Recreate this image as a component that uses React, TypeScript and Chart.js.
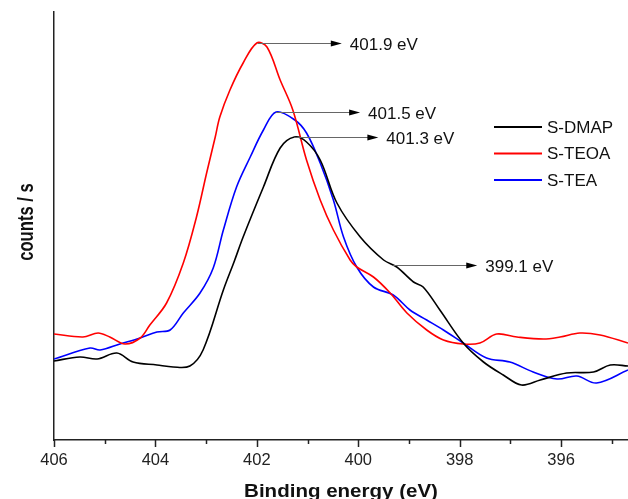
import React, { useEffect, useRef } from 'react';
import { Chart, registerables } from 'chart.js';

Chart.register(...registerables);

const FONT = '"Liberation Sans", Arial, Helvetica, sans-serif';

// ---- data ----
const seriesNames = ['S-DMAP', 'S-TEOA', 'S-TEA'];
const seriesColors = ['#000000', '#ff0000', '#0000ff'];

const dmapEnergy = [406.0, 405.49, 405.15, 404.76, 404.44, 403.97, 403.65, 403.32, 403.06, 402.66, 402.45, 402.27, 401.87, 401.54, 401.26, 401.02, 400.75, 400.42, 399.96, 399.5, 399.24, 398.91, 398.72, 398.39, 397.93, 397.53, 397.14, 396.78, 396.41, 395.89, 395.36, 395.03, 394.68];
const dmapCounts = [79, 83, 81, 87, 78, 75, 73, 74, 90, 150, 178, 203, 253, 292, 303, 298, 280, 237, 203, 180, 173, 158, 153, 130, 97, 78, 65, 55, 60, 67, 68, 75, 74];

const teoaEnergy = [406.0, 405.43, 405.13, 404.9, 404.6, 404.3, 404.11, 403.78, 403.45, 403.19, 402.99, 402.82, 402.73, 402.53, 402.27, 402.0, 401.8, 401.54, 401.29, 401.02, 400.75, 400.49, 400.16, 400.03, 399.7, 399.37, 399.04, 398.65, 398.32, 397.93, 397.6, 397.27, 396.87, 396.35, 396.02, 395.63, 395.23, 394.68];
const teoaCounts = [106, 103, 107, 103, 96, 102, 115, 137, 177, 223, 267, 303, 323, 350, 377, 397, 393, 360, 330, 280, 240, 210, 180, 173, 163, 147, 127, 110, 100, 96, 97, 106, 103, 101, 103, 107, 105, 97];

const teaEnergy = [406.0, 405.29, 405.09, 404.7, 404.3, 403.97, 403.71, 403.45, 403.12, 402.86, 402.66, 402.4, 402.13, 401.87, 401.62, 401.25, 401.02, 400.75, 400.49, 400.29, 400.03, 399.7, 399.31, 398.98, 398.65, 398.32, 397.93, 397.47, 397.01, 396.55, 396.08, 395.69, 395.3, 394.68];
const teaCounts = [81, 92, 90, 96, 102, 108, 110, 127, 147, 172, 210, 253, 283, 310, 328, 320, 307, 277, 240, 203, 173, 153, 145, 130, 120, 110, 97, 82, 78, 68, 61, 64, 57, 70];

const xTickValues = [406, 405, 404, 403, 402, 401, 400, 399, 398, 397, 396, 395];
const xMin = 394.68;
const xMax = 406;
const yMin = 0;
const yMax = 428;

const annotLabels = ['401.9 eV', '401.5 eV', '401.3 eV', '399.1 eV'];
const annotEnergy = [401.98, 401.62, 401.26, 399.31];
const annotCounts = [397, 328, 303, 175];

const xTitle = 'Binding energy (eV)';
const yTitle = 'counts / s';

const toPoints = (xs: number[], ys: number[]) => xs.map((x, i) => ({ x, y: ys[i] }));

const decorPlugin = {
  id: 'decor',
  afterDraw(chart: any) {
    const ctx: CanvasRenderingContext2D = chart.ctx;
    const xs = chart.scales.x;
    const ys = chart.scales.y;
    const area = chart.chartArea;
    ctx.save();

    // tick marks (major/minor)
    ctx.strokeStyle = '#222';
    ctx.lineWidth = 1.5;
    xTickValues.forEach((v) => {
      const px = Math.round(xs.getPixelForValue(v)) + 0.5;
      const len = v % 2 === 0 ? 7 : 4;
      ctx.beginPath();
      ctx.moveTo(px, area.bottom);
      ctx.lineTo(px, area.bottom + len);
      ctx.stroke();
    });

    // annotations
    annotLabels.forEach((lab, i) => {
      const sx = xs.getPixelForValue(annotEnergy[i]);
      const sy = Math.round(ys.getPixelForValue(annotCounts[i])) + 0.5;
      const tip = sx + 84;
      ctx.strokeStyle = '#666';
      ctx.lineWidth = 1;
      ctx.beginPath();
      ctx.moveTo(sx, sy);
      ctx.lineTo(tip - 9, sy);
      ctx.stroke();
      ctx.fillStyle = '#000';
      ctx.beginPath();
      ctx.moveTo(tip, sy);
      ctx.lineTo(tip - 11, sy - 3);
      ctx.lineTo(tip - 11, sy + 3);
      ctx.closePath();
      ctx.fill();
      ctx.font = `17px ${FONT}`;
      ctx.textAlign = 'left';
      ctx.textBaseline = 'middle';
      ctx.fillStyle = '#111';
      ctx.fillText(lab, tip + 8, sy + 2);
    });

    // legend
    const lx = area.right - 134;
    const ly0 = area.top + 115;
    seriesNames.forEach((name, i) => {
      const y = ly0 + i * 26.5;
      ctx.strokeStyle = seriesColors[i];
      ctx.lineWidth = 1.8;
      ctx.beginPath();
      ctx.moveTo(lx, y);
      ctx.lineTo(lx + 48, y);
      ctx.stroke();
      ctx.fillStyle = '#111';
      ctx.font = `17px ${FONT}`;
      ctx.textAlign = 'left';
      ctx.textBaseline = 'middle';
      ctx.fillText(name, lx + 53, y + 1);
    });

    // axis titles
    ctx.fillStyle = '#111';
    ctx.save();
    ctx.translate((area.left + area.right) / 2, 497);
    ctx.scale(1.08, 1);
    ctx.font = `bold 19px ${FONT}`;
    ctx.textAlign = 'center';
    ctx.textBaseline = 'alphabetic';
    ctx.fillText(xTitle, 0, 0);
    ctx.restore();

    ctx.save();
    ctx.translate(27, 222);
    ctx.rotate(-Math.PI / 2);
    ctx.scale(1.04, 1.4);
    ctx.font = `bold 16px ${FONT}`;
    ctx.textAlign = 'center';
    ctx.textBaseline = 'middle';
    ctx.fillText(yTitle, 0, 0);
    ctx.restore();

    ctx.restore();
  },
};

function XpsChart() {
  const ref = useRef<HTMLCanvasElement | null>(null);
  useEffect(() => {
    if (!ref.current) return;
    const mk = (label: string, color: string, xs: number[], ys: number[]) => ({
      label,
      data: toPoints(xs, ys),
      borderColor: color,
      backgroundColor: color,
      borderWidth: 1.6,
      pointRadius: 0,
      fill: false,
      tension: 0.35,
    });
    const chart = new Chart(ref.current, {
      type: 'line',
      data: {
        datasets: [
          mk(seriesNames[0], seriesColors[0], dmapEnergy, dmapCounts),
          mk(seriesNames[1], seriesColors[1], teoaEnergy, teoaCounts),
          mk(seriesNames[2], seriesColors[2], teaEnergy, teaCounts),
        ],
      },
      options: {
        responsive: false,
        animation: false,
        events: [],
        layout: { padding: { top: 12, left: 0, right: 0, bottom: 0 } },
        plugins: { legend: { display: false }, tooltip: { enabled: false }, title: { display: false } },
        scales: {
          x: {
            type: 'linear',
            reverse: true,
            min: xMin,
            max: xMax,
            afterBuildTicks: (s: any) => {
              s.ticks = xTickValues.map((v) => ({ value: v }));
            },
            afterFit: (s: any) => {
              s.height = 59;
            },
            grid: { display: true, drawOnChartArea: false, drawTicks: false },
            border: { display: true, color: '#222', width: 1.5 },
            ticks: {
              autoSkip: false,
              maxRotation: 0,
              padding: 11,
              color: '#222',
              font: { family: FONT, size: 16.5 },
              callback: (v: any) => (Number(v) % 2 === 0 ? String(v) : ''),
            },
          },
          y: {
            type: 'linear',
            min: yMin,
            max: yMax,
            afterFit: (s: any) => {
              s.width = 54;
            },
            grid: { display: true, drawOnChartArea: false, drawTicks: false },
            border: { display: true, color: '#222', width: 1.5 },
            ticks: { display: false },
          },
        },
      },
      plugins: [decorPlugin],
    });
    return () => chart.destroy();
  }, []);
  return (
    <div style={{ position: 'fixed', left: 0, top: 0, width: 628, height: 499, background: '#fff' }}>
      <canvas ref={ref} width={628} height={499} style={{ display: 'block' }} />
    </div>
  );
}

export default function App() {
  return <XpsChart />;
}
